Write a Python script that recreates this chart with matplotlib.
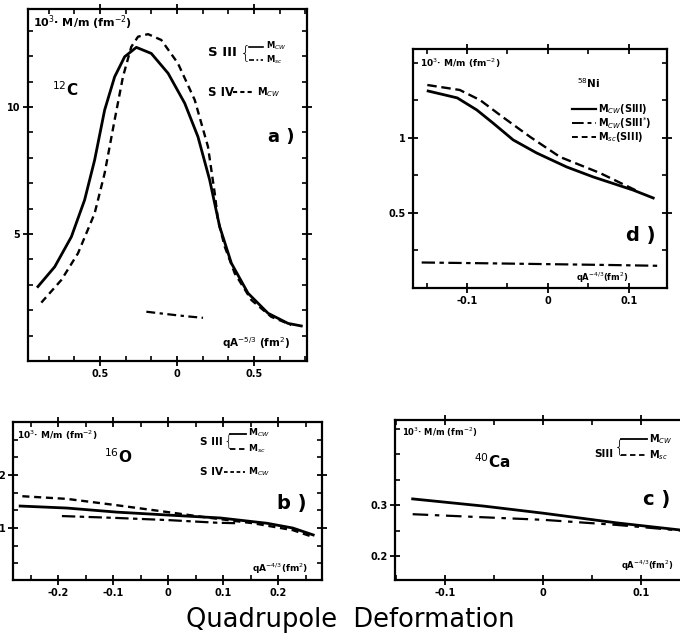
import matplotlib
matplotlib.use("Agg")
import matplotlib.pyplot as plt
from matplotlib.ticker import FixedLocator, FixedFormatter, MultipleLocator
from matplotlib.lines import Line2D

# ---------------- data ----------------
# (a) 12C
a_x_cw3 = [-0.903, -0.794, -0.686, -0.600, -0.535, -0.470, -0.405, -0.340, -0.264, -0.167,
           -0.058, 0.050, 0.136, 0.212, 0.277, 0.353, 0.461, 0.591, 0.721, 0.807]
a_y_cw3 = [2.93, 3.71, 4.89, 6.34, 7.91, 9.88, 11.19, 11.98, 12.35, 12.11,
           11.33, 10.15, 8.83, 7.13, 5.29, 3.85, 2.67, 1.88, 1.48, 1.38]
a_x_cw4 = [-0.881, -0.751, -0.643, -0.535, -0.470, -0.405, -0.351, -0.297, -0.253, -0.188,
           -0.102, 0.006, 0.115, 0.201, 0.245, 0.266, 0.310, 0.375, 0.483, 0.612, 0.742]
a_y_cw4 = [2.30, 3.19, 4.24, 5.81, 7.39, 9.49, 11.19, 12.37, 12.77, 12.87,
           12.64, 11.72, 10.28, 8.44, 6.60, 5.55, 4.50, 3.45, 2.40, 1.74, 1.42]
a_x_sc3 = [-0.199, -0.10, 0.0, 0.08, 0.169]
a_y_sc3 = [1.94, 1.87, 1.80, 1.75, 1.70]

# (d) 58Ni
d_x_cw3 = [-0.148, -0.112, -0.088, -0.068, -0.043, -0.014, 0.023, 0.056, 0.105, 0.13]
d_y_cw3 = [1.313, 1.267, 1.187, 1.10, 0.987, 0.90, 0.807, 0.74, 0.653, 0.60]
d_x_cw3s = [-0.149, -0.109, -0.084, -0.056, -0.022, 0.015, 0.064, 0.11]
d_y_cw3s = [1.353, 1.32, 1.253, 1.14, 1.007, 0.873, 0.767, 0.647]
d_x_sc3 = [-0.156, -0.08, 0.0, 0.08, 0.136]
d_y_sc3 = [0.170, 0.165, 0.159, 0.153, 0.148]

# (b) 16O
b_x_cw3 = [-0.269, -0.184, -0.093, 0.0, 0.095, 0.18, 0.227, 0.264]
b_y_cw3 = [1.415, 1.377, 1.30, 1.245, 1.19, 1.09, 1.00, 0.87]
b_x_cw4 = [-0.265, -0.184, -0.093, 0.0, 0.07, 0.155, 0.227, 0.264]
b_y_cw4 = [1.60, 1.55, 1.43, 1.30, 1.20, 1.09, 0.96, 0.83]
b_x_sc3 = [-0.193, -0.093, 0.0, 0.089, 0.13]
b_y_sc3 = [1.226, 1.19, 1.15, 1.10, 1.09]

# (c) 40Ca
c_x_cw3 = [-0.133, -0.061, 0.0, 0.075, 0.14]
c_y_cw3 = [0.312, 0.298, 0.284, 0.265, 0.251]
c_x_sc3 = [-0.133, -0.061, 0.0, 0.075, 0.14]
c_y_sc3 = [0.282, 0.276, 0.271, 0.261, 0.250]

# ---------------- figure ----------------
W, H = 680, 640
fig = plt.figure(figsize=(W / 100, H / 100), dpi=100)
fig.patch.set_facecolor("white")

LW = 2.0


def box(l, t, r, b):
    return [l / W, 1 - b / H, (r - l) / W, (b - t) / H]


def P(px, py):
    return px / W, 1 - py / H


def style(ax, xt, xl, yt, yl, xminor, yminor):
    for s in ax.spines.values():
        s.set_linewidth(1.6)
    ax.xaxis.set_major_locator(FixedLocator(xt))
    ax.xaxis.set_major_formatter(FixedFormatter(xl))
    ax.yaxis.set_major_locator(FixedLocator(yt))
    ax.yaxis.set_major_formatter(FixedFormatter(yl))
    ax.xaxis.set_minor_locator(MultipleLocator(xminor))
    ax.yaxis.set_minor_locator(MultipleLocator(yminor))
    ax.tick_params(which="major", direction="inout", top=True, right=True,
                   width=1.3, length=7, pad=2)
    ax.tick_params(which="minor", direction="in", top=True, right=True,
                   width=1.2, length=3.5)
    for lab in ax.get_xticklabels() + ax.get_yticklabels():
        lab.set_fontsize(7)
        lab.set_fontweight("bold")


def ftext(px, py, s, size=8, weight="bold", **kw):
    x, y = P(px, py)
    fig.text(x, y, s, fontsize=size, fontweight=weight, va="center", **kw)


def fline(px0, px1, py, **kw):
    x0, y0 = P(px0, py)
    x1, _ = P(px1, py)
    fig.add_artist(Line2D([x0, x1], [y0, y0], color="black", **kw))


# ---- (a) ----
axa = fig.add_axes(box(28, 9, 307, 361))
axa.plot(a_x_cw3, a_y_cw3, color="black", lw=LW)
axa.plot(a_x_cw4, a_y_cw4, color="black", lw=LW * 0.85, ls=(0, (3, 2)))
axa.plot(a_x_sc3, a_y_sc3, color="black", lw=LW * 0.8, ls=(0, (4, 2, 1.5, 2)))
axa.set_xlim(-0.9675, 0.844)
axa.set_ylim(0, 13.86)
style(axa, [-0.5, 0, 0.5], ["0.5", "0", "0.5"], [5, 10], ["5", "10"], 0.5 / 3, 1)

ftext(33, 23, "10$^3$· M/m (fm$^{-2}$)", 8)
ftext(52, 90, "$^{12}$C", 11)
ftext(208, 53, "S III", 9.5)
ftext(240, 53, "{", 13, weight="light")
fline(249, 263, 47, lw=1.2)
fline(249, 263, 60, lw=1.2, ls=(0, (3, 1.5, 1, 1.5)))
ftext(266, 46, "M$_{CW}$", 6)
ftext(266, 60, "M$_{sc}$", 6)
ftext(208, 92, "S IV", 8.5)
fline(233, 253, 92, lw=1.5, ls=(0, (2, 1.5)))
ftext(257, 92, "M$_{CW}$", 7)
ftext(268, 137, "a )", 13)
ftext(222, 343, "qA$^{-5/3}$ (fm$^2$)", 7.5)

# ---- (d) ----
axd = fig.add_axes(box(413, 49, 667, 288))
axd.plot(d_x_cw3, d_y_cw3, color="black", lw=LW)
axd.plot(d_x_cw3s, d_y_cw3s, color="black", lw=LW * 0.85, ls=(0, (4, 2)))
axd.plot(d_x_sc3, d_y_sc3, color="black", lw=LW * 0.8, ls=(0, (6, 2, 2, 2)))
axd.set_xlim(-0.1667, 0.147)
axd.set_ylim(0, 1.593)
style(axd, [-0.1, 0, 0.1], ["-0.1", "0", "0.1"], [0.5, 1], ["0.5", "1"], 0.05, 0.25)

ftext(420, 63, "10$^3$· M/m (fm$^{-2}$)", 6.5)
ftext(577, 83, "$^{58}$Ni", 7.5)
fline(572, 596, 109, lw=1.6)
fline(572, 596, 123, lw=1.4, ls=(0, (6, 2, 2, 2)))
fline(572, 596, 137, lw=1.4, ls=(0, (3, 2)))
ftext(598, 109, "M$_{CW}$(SIII)", 7)
ftext(598, 123, "M$_{CW}$(SIII$^{*}$)", 7)
ftext(598, 137, "M$_{sc}$(SIII)", 7)
ftext(626, 236, "d )", 14)
ftext(576, 278, "qA$^{-4/3}$(fm$^2$)", 6)

# ---- (b) ----
axb = fig.add_axes(box(13, 422, 322, 580))
axb.plot(b_x_cw3, b_y_cw3, color="black", lw=LW)
axb.plot(b_x_cw4, b_y_cw4, color="black", lw=LW * 0.85, ls=(0, (3, 2)))
axb.plot(b_x_sc3, b_y_sc3, color="black", lw=LW * 0.8, ls=(0, (6, 2, 2, 2)))
axb.set_xlim(-0.282, 0.28)
axb.set_ylim(0.02, 3.0)
style(axb, [-0.2, -0.1, 0, 0.1, 0.2], ["-0.2", "-0.1", "0", "0.1", "0.2"],
      [1, 2], ["1", "2"], 0.05, 1 / 3)

ftext(17, 435, "10$^3$· M/m (fm$^{-2}$)", 6.5)
ftext(104, 457, "$^{16}$O", 11)
ftext(200, 442, "S III", 7.5)
ftext(223, 441, "{", 11, weight="light")
fline(230, 246, 434, lw=1.3)
fline(230, 246, 449, lw=1.3, ls=(0, (3, 2)))
ftext(248, 433, "M$_{CW}$", 6.5)
ftext(248, 449, "M$_{sc}$", 6.5)
ftext(200, 472, "S IV", 7.5)
fline(224, 245, 472, lw=1.3, ls=(0, (2, 1.5)))
ftext(248, 472, "M$_{CW}$", 6.5)
ftext(277, 504, "b )", 14)
ftext(252, 569, "qA$^{-4/3}$(fm$^2$)", 6.5)

# ---- (c) ----
axc = fig.add_axes(box(395, 420, 705, 580))
axc.plot(c_x_cw3, c_y_cw3, color="black", lw=LW)
axc.plot(c_x_sc3, c_y_sc3, color="black", lw=LW * 0.8, ls=(0, (7, 3, 2, 3)))
axc.set_xlim(-0.151, 0.165)
axc.set_ylim(0.153, 0.4667)
style(axc, [-0.1, 0, 0.1], ["-0.1", "0", "0.1"], [0.2, 0.3], ["0.2", "0.3"], 0.05, 0.05)

ftext(402, 432, "10$^3$· M/m (fm$^{-2}$)", 6)
ftext(474, 462, "$^{40}$Ca", 11)
ftext(594, 454, "SIII", 7.5)
ftext(614, 447, "{", 13, weight="light")
fline(621, 647, 439, lw=1.3)
fline(621, 647, 455, lw=1.3, ls=(0, (3, 2)))
ftext(649, 439, "M$_{CW}$", 7)
ftext(649, 455, "M$_{sc}$", 7)
ftext(643, 499, "c )", 14)
ftext(621, 566, "qA$^{-4/3}$(fm$^2$)", 6)

# ---- overall caption ----
fig.text(350 / W, 1 - 620 / H, "Quadrupole  Deformation", ha="center", va="center",
         fontsize=18.5, fontfamily="DejaVu Sans")

fig.savefig("out.png", dpi=100, facecolor="white")
